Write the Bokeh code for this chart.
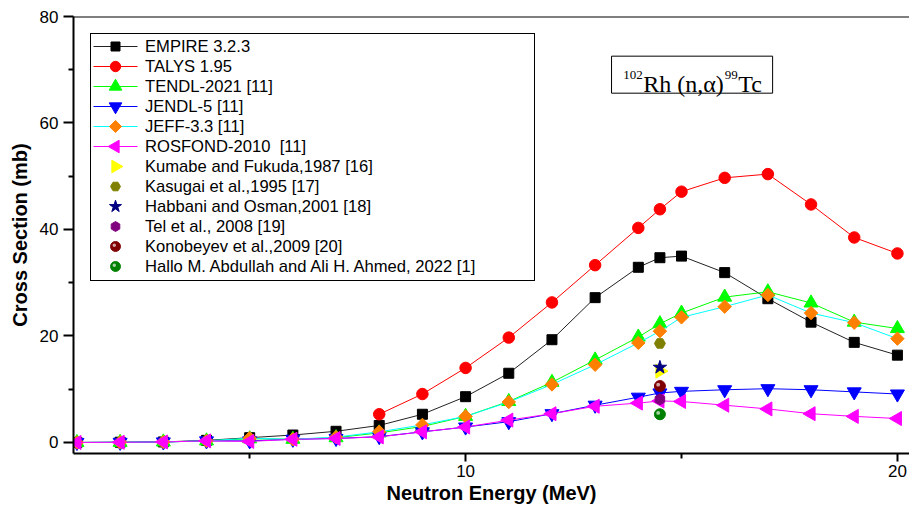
import numpy as np
from bokeh.plotting import figure
from bokeh.models import (Range1d, FixedTicker, Legend, LegendItem, Label, Span,
                          ColumnDataSource, BoxAnnotation)
from bokeh.transform import dodge
from bokeh.embed import file_html
from bokeh.resources import INLINE

# ---------------- data ----------------
energy = [1, 2, 3, 4, 5, 6, 7, 8, 9, 10, 11, 12, 13, 14, 14.5, 15, 16, 17, 18, 19, 20]
empire = [0.0, 0.05, 0.1, 0.4, 0.9, 1.4, 2.1, 3.2, 5.3, 8.6, 13.0, 19.3, 27.2, 32.9,
          34.7, 35.0, 31.9, 27.0, 22.6, 18.8, 16.4]
talys_energy = [8, 9, 10, 11, 12, 13, 14, 14.5, 15, 16, 17, 18, 19, 20]
talys = [5.3, 9.1, 14.0, 19.7, 26.3, 33.3, 40.3, 43.8, 47.1, 49.7, 50.4, 44.7, 38.5, 35.5]
tendl = [0.0, 0.03, 0.1, 0.3, 0.7, 0.6, 0.9, 1.8, 3.0, 4.9, 7.7, 11.3, 15.5, 19.8,
         22.3, 24.3, 27.3, 28.3, 26.2, 22.6, 21.4]
jendl = [0.0, 0.03, 0.1, 0.3, 0.3, 0.6, 0.75, 1.1, 2.0, 2.9, 3.9, 5.4, 7.0, 8.5,
         9.3, 9.6, 9.9, 10.1, 9.9, 9.5, 9.1]
jeff = [0.0, 0.03, 0.1, 0.3, 0.8, 0.6, 1.0, 2.0, 3.3, 4.9, 7.6, 10.9, 14.6, 18.7,
        20.9, 23.5, 25.5, 27.7, 24.3, 22.5, 19.5]
rosfond = [0.0, 0.03, 0.1, 0.3, 0.2, 0.6, 0.75, 1.05, 2.0, 2.9, 4.2, 5.4, 6.8, 7.4,
           7.8, 7.7, 7.0, 6.3, 5.4, 4.9, 4.5]

exp_energy = [14.5]
kumabe = [13.4]
kasugai = [18.6]
habbani = [14.1]
tel = [8.1]
konobeyev = [10.6]
hallo = [5.3]

x_ticks = [10, 20]
x_minor = [5, 15]
y_ticks = [0, 20, 40, 60, 80]
y_minor = [10, 30, 50, 70]

labels = ["EMPIRE 3.2.3", "TALYS 1.95", "TENDL-2021 [11]", "JENDL-5 [11]",
          "JEFF-3.3 [11]", "ROSFOND-2010  [11]", "Kumabe and Fukuda,1987 [16]",
          "Kasugai et al.,1995 [17]", "Habbani and Osman,2001 [18]",
          "Tel et al., 2008 [19]", "Konobeyev et al.,2009 [20]",
          "Hallo M. Abdullah and Ali H. Ahmed, 2022 [1]"]
reaction_parts = ["102", "Rh (n,\u03b1)", "99", "Tc"]

# ---------------- layout constants ----------------
W, H = 909, 508
LEFT, TOP, BOTTOM = 73, 16, 55
FRAME_W, FRAME_H = W - LEFT, H - TOP - BOTTOM
LEG_MARGIN, LEG_PAD, ROW_H, GLYPH_W = 17, 3, 20, 44

p = figure(width=W, height=H, output_backend="svg", toolbar_location=None,
           x_range=Range1d(0.92, 20.28), y_range=Range1d(-2.07, 80),
           min_border_left=LEFT, min_border_right=0, min_border_top=TOP,
           min_border_bottom=BOTTOM)
p.extra_x_ranges = {"px": Range1d(0, FRAME_W)}
p.extra_y_ranges = {"px": Range1d(0, FRAME_H)}
p.outline_line_color = None
p.xgrid.visible = False
p.ygrid.visible = False
p.background_fill_color = "white"
p.border_fill_color = "white"

SANS = "Liberation Sans"
for ax in (p.xaxis[0], p.yaxis[0]):
    ax.axis_line_width = 2
    ax.axis_line_color = "black"
    ax.major_tick_line_width = 2
    ax.minor_tick_line_width = 2
    ax.major_tick_in = 0
    ax.minor_tick_in = 0
    ax.major_label_text_font = SANS
    ax.major_label_text_font_size = "17px"
    ax.major_label_text_color = "black"
    ax.axis_label_text_font = SANS
    ax.axis_label_text_font_style = "bold"
    ax.axis_label_text_font_size = "20px"
    ax.axis_label_text_color = "black"

p.xaxis.ticker = FixedTicker(ticks=x_ticks, minor_ticks=x_minor)
p.yaxis.ticker = FixedTicker(ticks=y_ticks, minor_ticks=y_minor)
p.xaxis.major_tick_out = 8
p.xaxis.minor_tick_out = 5
p.yaxis.major_tick_out = 10
p.yaxis.minor_tick_out = 5
p.xaxis.major_label_standoff = 3
p.yaxis.major_label_standoff = 5
p.xaxis.axis_label = "Neutron Energy (MeV)"
p.yaxis.axis_label = "Cross Section (mb)"
p.xaxis.axis_label_standoff = 2
p.yaxis.axis_label_standoff = 6

p.add_layout(Span(location=80, dimension="width", line_color="black", line_width=2))

# ---------------- marker styles ----------------
styles = [
    dict(marker="square", color="black", size=10, angle=0.0, line="#222222"),
    dict(marker="circle", color="#ff0000", size=11.5, angle=0.0, line="#ff0000"),
    dict(marker="triangle", color="#00ff00", size=14, angle=0.0, line="#00ff00"),
    dict(marker="inverted_triangle", color="#0000ff", size=14, angle=0.0, line="#0000ff"),
    dict(marker="square", color="#ff8000", size=9.5, angle=np.pi / 4, line="#00ffff"),
    dict(marker="triangle", color="#ff00ff", size=14, angle=np.pi / 2, line="#ff00ff"),
    dict(marker="triangle", color="#ffff00", size=14, angle=-np.pi / 2),
    dict(marker="hex", color="#808000", size=11, angle=0.0),
    dict(marker="star", color="#000080", size=14, angle=0.0),
    dict(marker="hex", color="#800080", size=11, angle=np.pi / 2),
    dict(marker="sphere", color="#800000", size=11, angle=0.0),
    dict(marker="sphere", color="#008000", size=11, angle=0.0),
]

def draw_marker(src, st, scale=1.0, xr="default", yr="default", shine_dx=-0.04,
                shine_dy=0.25):
    kw = dict(x_range_name=xr, y_range_name=yr)
    size = st["size"] * scale
    if st["marker"] == "sphere":
        r = p.scatter("x", "y", source=src, marker="circle", size=size,
                      fill_color=st["color"], line_color=st["color"], **kw)
        xrng = p.x_range if xr == "default" else p.extra_x_ranges[xr]
        yrng = p.y_range if yr == "default" else p.extra_y_ranges[yr]
        p.scatter(x=dodge("x", shine_dx, range=xrng), y=dodge("y", shine_dy, range=yrng),
                  source=src, marker="circle", size=size * 0.35, fill_color="white",
                  fill_alpha=0.65, line_color=None, **kw)
        return r
    return p.scatter("x", "y", source=src, marker=st["marker"], size=size,
                     angle=st["angle"], fill_color=st["color"],
                     line_color=st["color"], **kw)

items = []
line_series = [(energy, empire), (talys_energy, talys), (energy, tendl),
               (energy, jendl), (energy, jeff), (energy, rosfond)]
for i, (xs, ys) in enumerate(line_series):
    src = ColumnDataSource(dict(x=xs, y=ys))
    p.line("x", "y", source=src, line_color=styles[i]["line"], line_width=1)
    draw_marker(src, styles[i])

exp_series = [kumabe, kasugai, habbani, tel, konobeyev, hallo]
for j, ys in enumerate(exp_series):
    src = ColumnDataSource(dict(x=exp_energy, y=ys))
    draw_marker(src, styles[6 + j])

# legend symbols (drawn as glyphs so that rotated markers keep their rotation)
leg_x0 = LEG_MARGIN + LEG_PAD
leg_xc = leg_x0 + GLYPH_W / 2
for i, st in enumerate(styles):
    leg_y = FRAME_H - (LEG_MARGIN + LEG_PAD + ROW_H / 2 + ROW_H * i)
    if "line" in st:
        p.segment(x0=[leg_x0], y0=[leg_y], x1=[leg_x0 + GLYPH_W], y1=[leg_y],
                  line_color=st["line"], line_width=1, x_range_name="px",
                  y_range_name="px")
    src = ColumnDataSource(dict(x=[leg_xc], y=[leg_y]))
    draw_marker(src, st, scale=0.9, xr="px", yr="px", shine_dx=-1.2, shine_dy=1.2)
    dummy = p.scatter(x=[], y=[], fill_alpha=0, line_alpha=0)
    items.append(LegendItem(label=labels[i], renderers=[dummy]))

legend = Legend(items=items, location="top_left", margin=LEG_MARGIN, padding=LEG_PAD,
                spacing=0, glyph_width=GLYPH_W, glyph_height=ROW_H, label_height=ROW_H,
                label_width=386, label_standoff=7, label_text_font=SANS,
                label_text_font_size="16.6px", label_text_color="black",
                border_line_color="black", border_line_width=1, border_line_alpha=1.0,
                background_fill_alpha=0.0)
p.add_layout(legend)

# ---------------- reaction label ----------------
p.add_layout(BoxAnnotation(left=13.38, right=17.11, bottom=65.6, top=72.55,
                           fill_color="white", fill_alpha=1.0, line_color="black",
                           line_alpha=1.0, line_width=1))
part_offsets = [0, 20, 101.5, 115]
part_sizes = ["13px", "24px", "13px", "24px"]
part_raise = [9, 0, 9, 0]
for txt, dx, fs, dy in zip(reaction_parts, part_offsets, part_sizes, part_raise):
    p.add_layout(Label(x=13.652, y=67.23, text=txt, x_offset=dx, y_offset=dy,
                       text_align="left", text_baseline="alphabetic",
                       text_font="Liberation Serif", text_font_size=fs,
                       text_color="black"))

open("out.html", "w").write(file_html(p, INLINE))
